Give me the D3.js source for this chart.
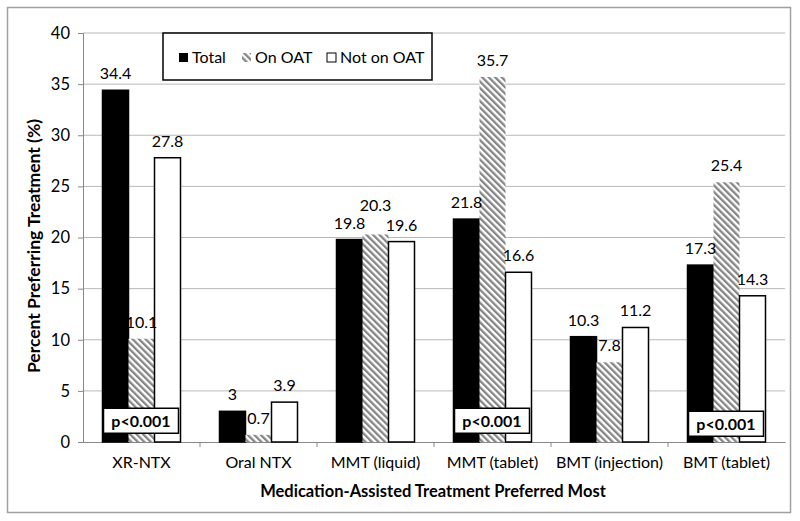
<!DOCTYPE html>
<html>
<head>
<meta charset="utf-8">
<script src="https://cdn.jsdelivr.net/npm/d3@7"></script>
<style>
    body { margin: 0; background: #fff; }
    text { font-family: Lato, "Open Sans", sans-serif; fill: #000; }
</style>
</head>
<body>
<div class="chart"></div>
<script>
const categories = ["XR-NTX", "Oral NTX", "MMT (liquid)", "MMT (tablet)", "BMT (injection)", "BMT (tablet)"];
const seriesNames = ["Total", "On OAT", "Not on OAT"];
const total = [34.4, 3, 19.8, 21.8, 10.3, 17.3];
const onOAT = [10.1, 0.7, 20.3, 35.7, 7.8, 25.4];
const notOnOAT = [27.8, 3.9, 19.6, 16.6, 11.2, 14.3];
const yTicks = [0, 5, 10, 15, 20, 25, 30, 35, 40];
const pValueGroups = ["XR-NTX", "MMT (tablet)", "BMT (tablet)"];

const width = 800;
const height = 521;
const margin = { left: 83, right: 15, top: 33, bottom: 79 };

const svg = d3.select('.chart')
    .append('svg')
    .attr('width', width)
    .attr('height', height);

// hatch for "On OAT"
svg.append("defs").append("pattern")
    .attr("id", "hatch")
    .attr("patternUnits", "userSpaceOnUse")
    .attr("width", 4.6)
    .attr("height", 4.6)
    .attr("patternTransform", "rotate(-45)")
    .call(p => {
        p.append("rect").attr("width", 4.6).attr("height", 4.6).attr("fill", "#fff");
        p.append("rect").attr("width", 2.3).attr("height", 4.6).attr("fill", "#858585");
    });

// outer frame
svg.append("rect")
    .attr("x", 7.5).attr("y", 7.5)
    .attr("width", 783).attr("height", 505)
    .attr("fill", "none")
    .attr("stroke", "#a0a0a0")
    .attr("stroke-width", 1.5);

const x = d3.scaleBand()
    .domain(categories)
    .range([margin.left, width - margin.right])
    .paddingInner(1 / 3)
    .paddingOuter(1 / 6);

const xSub = d3.scaleBand()
    .domain(seriesNames)
    .range([0, x.bandwidth()]);

const y = d3.scaleLinear()
    .domain([0, 40])
    .range([height - margin.bottom, margin.top]);

// gridlines
svg.selectAll(".grid")
    .data(yTicks.filter(t => t > 0))
    .enter()
    .append("line")
    .attr("x1", margin.left)
    .attr("x2", width - margin.right)
    .attr("y1", d => y(d))
    .attr("y2", d => y(d))
    .attr("stroke", "#b8b8b8")
    .attr("stroke-width", 1);

// y axis
const yAxis = svg.append("g")
    .attr("transform", "translate(" + margin.left + ",0)")
    .call(d3.axisLeft(y).tickValues(yTicks).tickSize(5).tickPadding(8));
yAxis.selectAll("line").attr("stroke", "#888");
yAxis.select(".domain").attr("stroke", "#888");
yAxis.selectAll("text").attr("font-size", "16.5px").attr("font-family", "Lato, sans-serif");

// x axis
const xAxis = svg.append("g")
    .attr("transform", "translate(0," + y(0) + ")")
    .call(d3.axisBottom(x).tickSize(0).tickPadding(15));
xAxis.select(".domain").attr("stroke", "#888");
xAxis.selectAll("text").attr("font-size", "16px").attr("font-family", "Lato, sans-serif");

// category separators
const step = x.step();
svg.selectAll(".sep")
    .data(categories.slice(1))
    .enter()
    .append("line")
    .attr("x1", d => x(d) - step / 6)
    .attr("x2", d => x(d) - step / 6)
    .attr("y1", y(0))
    .attr("y2", y(0) + 5)
    .attr("stroke", "#888");

const rows = [];
categories.forEach((c, i) => {
    rows.push({ cat: c, series: "Total", value: total[i] });
    rows.push({ cat: c, series: "On OAT", value: onOAT[i] });
    rows.push({ cat: c, series: "Not on OAT", value: notOnOAT[i] });
});

function fillFor(s) {
    if (s == "Total") return "#000";
    if (s == "On OAT") return "url(#hatch)";
    return "#fff";
}

svg.selectAll(".bar")
    .data(rows)
    .enter()
    .append("rect")
    .attr("class", "bar")
    .attr("x", d => x(d.cat) + xSub(d.series))
    .attr("y", d => y(d.value))
    .attr("width", xSub.bandwidth())
    .attr("height", d => y(0) - y(d.value))
    .attr("fill", d => fillFor(d.series))
    .attr("stroke", d => d.series == "On OAT" ? "none" : "#000")
    .attr("stroke-width", 1.5);

// data labels
svg.selectAll(".data-label")
    .data(rows)
    .enter()
    .append("text")
    .attr("class", "data-label")
    .attr("text-anchor", "middle")
    .attr("font-size", "16px")
    .attr("x", d => x(d.cat) + xSub(d.series) + xSub.bandwidth() / 2)
    .attr("y", function (d) {
        // 20.3 was nudged up in the original so it clears its neighbours
        let lift = (d.cat == "MMT (liquid)" && d.series == "On OAT") ? 12 : 0;
        return y(d.value) - 11 - lift;
    })
    .text(d => d.value);

// p-value boxes
const pBox = svg.selectAll(".pbox")
    .data(pValueGroups)
    .enter()
    .append("g")
    .attr("transform", (d, i) => "translate(" + (x(d) + 1) + "," + (y(3.3) + (i == 2 ? 3 : 0)) + ")");
pBox.append("rect")
    .attr("width", 75)
    .attr("height", 25)
    .attr("fill", "#fff")
    .attr("stroke", "#000")
    .attr("stroke-width", 1.5);
pBox.append("text")
    .attr("x", 37.5)
    .attr("y", 18.5)
    .attr("text-anchor", "middle")
    .attr("font-size", "16px")
    .attr("font-weight", "bold")
    .text("p<0.001");

// legend
const legend = svg.append("g").attr("transform", "translate(163,33)");
legend.append("rect")
    .attr("width", 269)
    .attr("height", 47)
    .attr("fill", "#fff")
    .attr("stroke", "#000")
    .attr("stroke-width", 1.5);
const legendX = [16, 79, 164];
const item = legend.selectAll(".item")
    .data(seriesNames)
    .enter()
    .append("g")
    .attr("transform", (d, i) => "translate(" + legendX[i] + ",0)");
item.append("rect")
    .attr("x", 0)
    .attr("y", 20)
    .attr("width", 9)
    .attr("height", 9)
    .attr("fill", d => fillFor(d))
    .attr("stroke", d => d == "Not on OAT" ? "#000" : "none");
item.append("text")
    .attr("x", 13)
    .attr("y", 30)
    .attr("font-size", "16px")
    .text(d => d);

// axis titles
svg.append("text")
    .attr("transform", "translate(40,246) rotate(-90)")
    .attr("text-anchor", "middle")
    .attr("font-size", "17.5px")
    .attr("font-weight", "bold")
    .text("Percent Preferring Treatment (%)");

svg.append("text")
    .attr("x", 433)
    .attr("y", 497)
    .attr("text-anchor", "middle")
    .attr("font-size", "16.5px")
    .attr("font-weight", "bold")
    .text("Medication-Assisted Treatment Preferred Most");
</script>
</body>
</html>
